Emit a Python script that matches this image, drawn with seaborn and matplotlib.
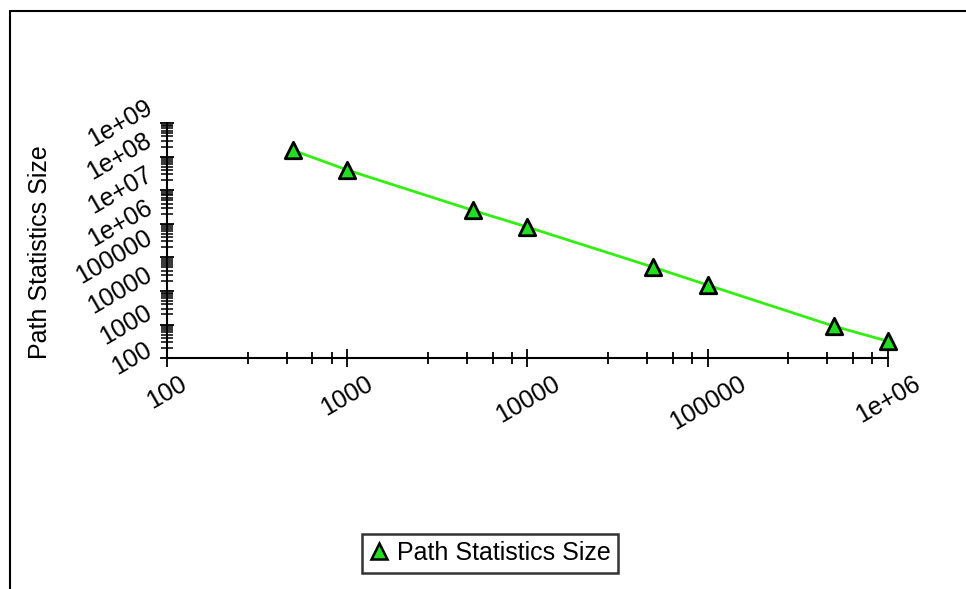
import numpy as np
import pandas as pd
import matplotlib
matplotlib.use("Agg")
import matplotlib.pyplot as plt
import matplotlib.ticker as mticker
from matplotlib.lines import Line2D
import seaborn as sns

# Number of paths vs. size of the path statistics table
n_paths = [500, 1000, 5000, 10000, 50000, 100000, 500000, 1000000]
stats_size = [1.55e8, 4.0e7, 2.5e6, 8.0e5, 5.1e4, 1.5e4, 900, 320]
series_name = "Path Statistics Size"

x_ticks = [100, 1000, 10000, 100000, 1000000]
y_ticks = [100, 1000, 10000, 100000, 1e6, 1e7, 1e8, 1e9]

df = pd.DataFrame({"n": n_paths, "size": stats_size})

sns.set_theme(style="white")
plt.rcParams["font.family"] = ["Liberation Sans", "DejaVu Sans"]
plt.rcParams["text.color"] = "black"
plt.rcParams["axes.labelcolor"] = "black"
plt.rcParams["xtick.color"] = "black"
plt.rcParams["ytick.color"] = "black"

fig = plt.figure(figsize=(9.66, 5.89), dpi=100)
ax = fig.add_axes([0.173, 0.392, 0.746, 0.399])

line_color = "#33ee11"
marker_color = "#22dd22"

sns.lineplot(data=df, x="n", y="size", ax=ax, color=line_color,
             linewidth=2, legend=False, zorder=2)
sns.scatterplot(data=df, x="n", y="size", ax=ax, marker="^", s=140,
                color=marker_color, edgecolor="black", linewidth=2.0,
                zorder=5, legend=False, clip_on=False)

ax.set_xscale("log")
ax.set_yscale("log")
ax.set_xlim(100, 1e6)
ax.set_ylim(100, 1e9)

fmt = mticker.FuncFormatter(lambda v, p: "%g" % v)
ax.xaxis.set_major_locator(mticker.FixedLocator(x_ticks))
ax.yaxis.set_major_locator(mticker.FixedLocator(y_ticks))
ax.xaxis.set_major_formatter(fmt)
ax.yaxis.set_major_formatter(fmt)

# minor ticks: linear steps inside each decade
x_minor = [d * s for d in x_ticks[:-1] for s in (2.8, 4.6, 6.4, 8.2)]
y_minor = [d * s for d in y_ticks[:-1] for s in range(2, 10)]
ax.xaxis.set_minor_locator(mticker.FixedLocator(x_minor))
ax.yaxis.set_minor_locator(mticker.FixedLocator(y_minor))
ax.xaxis.set_minor_formatter(mticker.NullFormatter())
ax.yaxis.set_minor_formatter(mticker.NullFormatter())

for side in ["top", "right"]:
    ax.spines[side].set_visible(False)
for side in ["left", "bottom"]:
    ax.spines[side].set_color("black")
    ax.spines[side].set_linewidth(1.5)
    ax.spines[side].set_zorder(4)

ax.tick_params(axis="both", which="both", bottom=True, left=True,
               top=False, right=False)
ax.tick_params(axis="x", which="major", direction="inout", length=13,
               width=1.3, color="black", pad=3, labelsize=18,
               labelcolor="black")
ax.tick_params(axis="x", which="minor", direction="inout", length=8,
               width=1.3, color="black")
ax.tick_params(axis="y", which="major", direction="inout", length=10,
               width=1.3, color="black", pad=3, labelsize=18,
               labelcolor="black")
ax.tick_params(axis="y", which="minor", direction="inout", length=9,
               width=1.1, color="black")

for lbl in ax.get_xticklabels():
    lbl.set_rotation(30)
    lbl.set_ha("center")
    lbl.set_va("top")
for lbl in ax.get_yticklabels():
    lbl.set_rotation(30)
    lbl.set_ha("right")
    lbl.set_va("center")

ax.set_xlabel("")
ax.set_ylabel(series_name, fontsize=18, color="black")
ax.yaxis.set_label_coords(-0.16, 0.45)
ax.set_facecolor("white")

handle = Line2D([], [], linestyle="none", marker="^", markersize=12,
                markerfacecolor=marker_color, markeredgecolor="black",
                markeredgewidth=1.8)
leg = fig.legend([handle], [series_name], loc="center",
                 bbox_to_anchor=(0.507, 0.061), fontsize=18, frameon=True,
                 fancybox=False, shadow=False, handlelength=0.8,
                 handletextpad=0.3, borderpad=0.3, borderaxespad=0)
leg.get_frame().set_edgecolor("black")
leg.get_frame().set_linewidth(1.8)
for t in leg.get_texts():
    t.set_color("black")

# open frame around the figure area
x0 = 10 / 966
y1 = 1 - 10.5 / 589
fig.add_artist(Line2D([x0, 1.0], [y1, y1], transform=fig.transFigure,
                      color="black", linewidth=1.5))
fig.add_artist(Line2D([x0, x0], [0.0, y1], transform=fig.transFigure,
                      color="black", linewidth=1.5))

fig.savefig("out.png", dpi=100, facecolor="white")
